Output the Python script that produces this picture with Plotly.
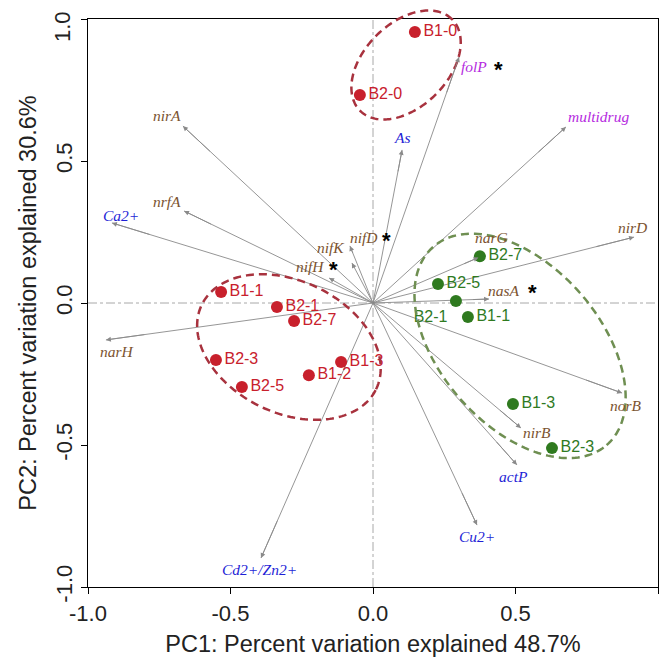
import numpy as np
import plotly.graph_objects as go

# ---------------- data ----------------
red_names = ["B1-0", "B2-0", "B1-1", "B2-1", "B2-7", "B2-3", "B2-5", "B1-2", "B1-3"]
red_pc1 = [0.147, -0.046, -0.533, -0.337, -0.277, -0.551, -0.460, -0.225, -0.112]
red_pc2 = [0.954, 0.732, 0.039, -0.014, -0.063, -0.201, -0.296, -0.254, -0.208]

green_names = ["B2-7", "B2-5", "B2-1", "B1-1", "B1-3", "B2-3"]
green_pc1 = [0.375, 0.228, 0.291, 0.333, 0.491, 0.628]
green_pc2 = [0.165, 0.067, 0.007, -0.049, -0.356, -0.511]

vec_names = ["nirA", "nrfA", "Ca2+", "nifH", "nifK", "nifD", "As", "folP", "multidrug",
             "nirD", "narG", "nasA", "norB", "nirB", "actP", "Cu2+", "Cd2+/Zn2+", "narH"]
vec_pc1 = [-0.667, -0.663, -0.916, -0.154, -0.074, -0.081, 0.102, 0.302, 0.677,
           0.916, 0.370, 0.407, 0.874, 0.519, 0.505, 0.365, -0.393, -0.937]
vec_pc2 = [0.623, 0.324, 0.282, 0.088, 0.141, 0.201, 0.539, 0.866, 0.620,
           0.232, 0.160, 0.014, -0.317, -0.440, -0.570, -0.782, -0.898, -0.130]
vec_group = ["gene", "gene", "metal", "gene", "gene", "gene", "metal", "arg", "arg",
             "gene", "gene", "gene", "gene", "gene", "metal", "metal", "metal", "gene"]
starred = ["nifH", "nifD", "folP", "nasA"]

tick_vals = [-1.0, -0.5, 0.0, 0.5, 1.0]
tick_text = ["-1.0", "-0.5", "0.0", "0.5", "1.0"]

# ---------------- styles ----------------
RED = "#c8202c"
GREEN = "#2f7a1f"
RED_ELL = "#a8323e"
GREEN_ELL = "#6f8f52"
ARROW = "#8a8a8a"
SANS = "Liberation Sans, Arial"
SERIF = "Liberation Serif, Times New Roman"
group_color = {"gene": "#7b5330", "metal": "#1f1fd6", "arg": "#b52be0"}
# label pixel offsets (dx right, dy up) from arrow tip
label_shift = {
    "nirA": (-16, 11), "nrfA": (-17, 9), "Ca2+": (9, 7), "nifH": (-19, 12),
    "nifK": (-21, 15), "nifD": (14, 8), "As": (0, 12), "folP": (15, -9),
    "multidrug": (33, 10), "nirD": (-2, 10), "narG": (13, 20), "nasA": (15, 9),
    "norB": (4, -12), "nirB": (16, -5), "actP": (-3, -12), "Cu2+": (0, -11),
    "Cd2+/Zn2+": (-2, -11), "narH": (11, -12),
}
star_shift = {"nifH": (4, 9), "nifD": (37, 5), "folP": (39, -12), "nasA": (43, 7)}

# ellipses: (center x, center y, semi-major, semi-minor, angle deg, colour)
ellipses = [
    (0.116, 0.838, 0.228, 0.147, 45, RED_ELL),
    (-0.295, -0.155, 0.340, 0.232, -26, RED_ELL),
    (0.516, -0.151, 0.463, 0.281, -49, GREEN_ELL),
]

fig = go.Figure()

# zero lines
fig.add_shape(type="line", xref="x", yref="paper", x0=0, x1=0, y0=0, y1=1,
              line=dict(color="#a8a8a8", width=1, dash="dashdot"), layer="below")
fig.add_shape(type="line", xref="paper", yref="y", x0=0, x1=1, y0=0, y1=0,
              line=dict(color="#a8a8a8", width=1, dash="dashdot"), layer="below")

# arrow shafts
sx, sy = [], []
for x, y in zip(vec_pc1, vec_pc2):
    sx += [0, x, None]
    sy += [0, y, None]
fig.add_trace(go.Scatter(x=sx, y=sy, mode="lines", line=dict(color=ARROW, width=0.9),
                         hoverinfo="skip", showlegend=False))

# ellipses (paper coords so they are not clipped)
t = np.linspace(0, 2 * np.pi, 200)
for cx, cy, a, b, ang, col in ellipses:
    th = np.deg2rad(ang)
    ex = cx + a * np.cos(t) * np.cos(th) - b * np.sin(t) * np.sin(th)
    ey = cy + a * np.cos(t) * np.sin(th) + b * np.sin(t) * np.cos(th)
    px = (ex + 1) / 2
    py = (ey + 1) / 2
    path = "M " + " L ".join(f"{u:.5f},{v:.5f}" for u, v in zip(px, py)) + " Z"
    fig.add_shape(type="path", xref="paper", yref="paper", path=path,
                  line=dict(color=col, width=2.5, dash="8px,5px"), layer="above")

# sample points
fig.add_trace(go.Scatter(x=red_pc1, y=red_pc2, mode="markers+text", text=red_names,
                         textposition="middle right",
                         marker=dict(color=RED, size=12),
                         textfont=dict(family=SANS, size=16, color=RED),
                         showlegend=False))
g_pos = ["bottom left" if n == "B2-1" else "middle right" for n in green_names]
fig.add_trace(go.Scatter(x=green_pc1, y=green_pc2, mode="markers+text", text=green_names,
                         textposition=g_pos,
                         marker=dict(color=GREEN, size=12),
                         textfont=dict(family=SANS, size=16, color=GREEN),
                         showlegend=False))

# arrow heads and labels
for name, x, y, grp in zip(vec_names, vec_pc1, vec_pc2, vec_group):
    fig.add_annotation(x=x, y=y, ax=0.85 * x, ay=0.85 * y, xref="x", yref="y",
                       axref="x", ayref="y", text="", showarrow=True,
                       arrowhead=2, arrowsize=1.1, arrowwidth=0.9, arrowcolor=ARROW)
    dx, dy = label_shift[name]
    fig.add_annotation(x=x, y=y, xref="x", yref="y", text=name, showarrow=False,
                       xshift=dx, yshift=dy,
                       font=dict(family=SERIF, size=15.5,
                                 color=group_color[grp], style="italic"))
    if name in starred:
        sdx, sdy = star_shift[name]
        fig.add_annotation(x=x, y=y, xref="x", yref="y", text="<b>*</b>", showarrow=False,
                           xshift=sdx, yshift=sdy,
                           font=dict(family=SANS, size=22, color="black"))

axis_common = dict(range=[-1, 1], showline=True, linecolor="black", linewidth=1.4,
                   mirror=True, ticks="outside", ticklen=6, tickwidth=1.4, tickcolor="black",
                   showgrid=False, zeroline=False, tickvals=tick_vals,
                   tickfont=dict(family=SANS, size=22, color="#222"), automargin=False)

# the top y tick label sits slightly below its tick (as in the reference) to stay visible
y_tick_text = [s if v != 1.0 else "" for v, s in zip(tick_vals, tick_text)]
fig.add_annotation(xref="paper", yref="paper", x=0, y=1, text=tick_text[-1],
                   showarrow=False, textangle=-90, xanchor="center", yanchor="middle",
                   xshift=-26, yshift=-8,
                   font=dict(family=SANS, size=22, color="#222"))

fig.update_layout(
    width=661, height=655,
    margin=dict(l=80, r=11, t=11, b=76),
    paper_bgcolor="white", plot_bgcolor="white",
    xaxis=dict(**axis_common, ticktext=tick_text,
               title=dict(text="PC1: Percent variation explained 48.7%",
                          font=dict(family=SANS, size=23.5, color="#222"),
                          standoff=10)),
    yaxis=dict(**axis_common, ticktext=y_tick_text, tickangle=-90,
               title=dict(text="PC2: Percent variation explained 30.6%",
                          font=dict(family=SANS, size=23.5, color="#222"),
                          standoff=8)),
)

fig.write_html("out.html")
